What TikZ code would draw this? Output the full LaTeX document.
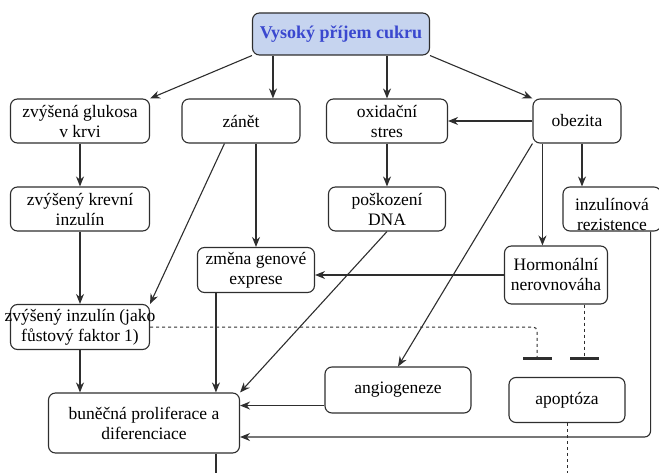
\documentclass[tikz,border=0pt]{standalone}
\usepackage{fontspec}
\setmainfont{Liberation Serif}
\usetikzlibrary{arrows.meta}
\definecolor{topfill}{HTML}{C6D4EF}
\definecolor{toptext}{HTML}{3A48CF}
\definecolor{linegray}{HTML}{2E2E2E}
\newcommand{\BoxAt}[5]{\node[box, minimum width=#3pt, minimum height=#4pt] (#1) at #2 {#5};}

\begin{document}
\begin{tikzpicture}[
    x=1pt, y=-1pt,
    >={Stealth[length=10pt, width=8pt]},
    box/.style={draw=linegray, line width=1.1pt, rounded corners=7pt,
      align=center, inner sep=1pt, font=\fontsize{17.5}{20}\selectfont},
    link/.style={->, color=linegray, line width=1.1pt},
    inhibit/.style={-{Bar[width=29pt, line width=3pt]}, color=linegray,
      line width=1pt, dash pattern=on 3pt off 3pt},
    dashline/.style={color=linegray, line width=1pt, dash pattern=on 3pt off 3pt}
    ]
    \clip (0,0) rectangle (659,473);

    \node[box, fill=topfill, text=toptext, minimum width=177pt, minimum height=42pt,
      font=\fontsize{18}{20}\selectfont\bfseries] (top) at (341,34) {Vysoký příjem cukru};

    \BoxAt{gluk}{(80,121)}{139}{44}{zvýšená glukosa\\v krvi}
    \BoxAt{zanet}{(241,121)}{118}{44}{zánět}
    \BoxAt{oxid}{(387,121)}{121}{44}{oxidační\\stres}
    \BoxAt{obez}{(577,121)}{88}{44}{obezita}
    \BoxAt{krev}{(80,209)}{139}{44}{zvýšený krevní\\inzulín}
    \BoxAt{dna}{(387,209)}{117}{44}{poškození\\DNA}
    \BoxAt{zmena}{(256,270)}{117}{45}{změna genové\\exprese}
    \BoxAt{horm}{(556,275)}{103}{58}{Hormonální\\nerovnováha}
    \BoxAt{bun}{(144,423)}{191}{60}{buněčná proliferace a\\diferenciace}
    \BoxAt{angio}{(398,390)}{146}{46}{angiogeneze}
    \BoxAt{apop}{(567,400)}{116}{45}{apoptóza}
    \node[box, inner xsep=-6pt, minimum width=139pt, minimum height=45pt]
      (ins) at (80,327) {zvýšený inzulín (jako\\fůstový faktor 1)};
    \node[box, minimum width=98pt, minimum height=44pt,
      label={[font=\fontsize{17.5}{20}\selectfont, align=center, yshift=-6pt]center:inzulínová\\rezistence}]
      (rez) at (612,209) {};

    \coordinate (stop1) at (537,360);
    \coordinate (stop2) at (584,360);
    \coordinate (apopend) at (567,480);
    \coordinate (bunend) at (216,480);

    \path[link]
    (top.south west) edge (gluk.north east)
    (top.south east) edge (obez.north west)
    (oxid.north |- top.south) edge (oxid.north)
    (obez.west) edge (oxid.east)
    (gluk) edge (krev)
    (krev) edge (ins)
    (oxid) edge (dna)
    (dna.south) edge (bun.north east)
    (obez.south west) edge (angio.north)
    (zmena.north |- zanet.south) edge (zmena.north)
    (horm.west) edge (horm.west -| zmena.east);

    \draw[link] ([xshift=21pt]top.south west) -- ([xshift=21pt]top.south west |- zanet.north);
    \draw[link] ([xshift=43pt]zanet.south west) -- (ins.north east);
    \draw[link] ([xshift=10pt]obez.south west) -- ([xshift=10pt]obez.south west |- horm.north);
    \draw[link] ([xshift=5pt]obez.south) -- ([xshift=5pt]obez.south |- rez.north);
    \draw[link] (ins.south) -- (ins.south |- bun.north);
    \draw[link] ([xshift=19pt]zmena.south west) -- ([xshift=19pt]zmena.south west |- bun.north);
    \draw[link] ([yshift=8pt]angio.south west) -- ([yshift=8pt]angio.south west -| bun.east);
    \draw[link, rounded corners=6pt] ([xshift=-11pt]rez.south east) |- ([yshift=-14pt]bun.east);

    % inhibition and open ends
    \draw[inhibit, rounded corners=4pt] (ins.east) -| (stop1);
    \draw[inhibit] (horm.south -| stop2) -- (stop2);
    \draw[dashline] (apop.south) -- (apopend);
    \draw[color=linegray, line width=1.1pt] (bunend |- bun.south) -- (bunend);

  \end{tikzpicture}
\end{document}
